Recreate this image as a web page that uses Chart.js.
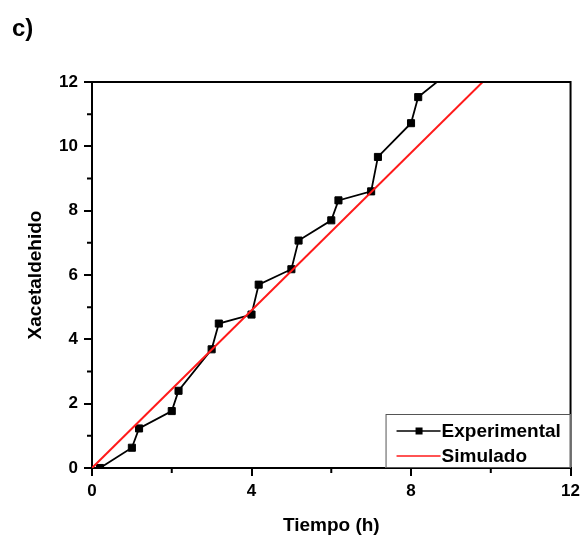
<!DOCTYPE html>
<html lang="es">
  <head>
    <meta charset="UTF-8" />
    <title>Xacetaldehido vs tiempo</title>
    <style>
      html, body { margin: 0; padding: 0; background: #fff; }
      #wrap { position: relative; width: 585px; height: 539px; }
    </style>
  </head>
  <body>
    <div id="wrap">
      <canvas id="myChart" width="585" height="539"></canvas>
    </div>

    <script src="https://cdn.jsdelivr.net/npm/chart.js"></script>
    <script>
      // Datos experimentales (tiempo en h, Xacetaldehido)
      const horasExp = [0.2, 1, 1.18, 2, 2.17, 3, 3.18, 4, 4.18, 5, 5.18, 6, 6.18, 7, 7.17, 8, 8.18, 9];
      const xExp = [0, 0.63, 1.23, 1.77, 2.4, 3.69, 4.49, 4.77, 5.7, 6.18, 7.07, 7.7, 8.32, 8.6, 9.67, 10.72, 11.53, 12.35];

      // Modelo simulado
      const horasSim = [0, 10];
      const xSim = [0, 12.25];

      const xTicks = [0, 4, 8, 12];
      const yTicks = [0, 2, 4, 6, 8, 10, 12];
      const xMinor = [2, 6, 10];
      const yMinor = [1, 3, 5, 7, 9, 11];

      const FONT = "'Liberation Sans', Arial, sans-serif";

      const toXY = (xs, ys) => xs.map((x, i) => ({ x: x, y: ys[i] }));

      // marco superior/derecho, marcas menores, leyenda y etiqueta "c)"
      const extras = {
        id: "extras",
        afterDraw(chart) {
          const { ctx, chartArea: a, scales } = chart;
          ctx.save();
          ctx.strokeStyle = "#000";
          ctx.lineWidth = 2;
          ctx.beginPath();
          ctx.moveTo(a.left, a.top);
          ctx.lineTo(a.right, a.top);
          ctx.lineTo(a.right, a.bottom);
          ctx.stroke();

          ctx.beginPath();
          xMinor.forEach((v) => {
            const px = scales.x.getPixelForValue(v);
            ctx.moveTo(px, a.bottom);
            ctx.lineTo(px, a.bottom + 5);
          });
          yMinor.forEach((v) => {
            const py = scales.y.getPixelForValue(v);
            ctx.moveTo(a.left, py);
            ctx.lineTo(a.left - 5, py);
          });
          ctx.stroke();

          // leyenda
          const bx = a.right - 185, by = a.bottom - 54;
          ctx.fillStyle = "#fff";
          ctx.fillRect(bx, by, 185, 54);
          ctx.strokeStyle = "#555";
          ctx.lineWidth = 1;
          ctx.strokeRect(bx + 0.5, by + 0.5, 184, 53);

          ctx.font = "bold 19px " + FONT;
          ctx.textBaseline = "middle";
          chart.data.datasets.forEach((ds, i) => {
            const y = by + 17 + i * 25;
            ctx.strokeStyle = ds.borderColor;
            ctx.lineWidth = 1.5;
            ctx.beginPath();
            ctx.moveTo(bx + 11, y);
            ctx.lineTo(bx + 55, y);
            ctx.stroke();
            if (ds.pointRadius > 0) {
              ctx.fillStyle = ds.borderColor;
              ctx.fillRect(bx + 30, y - 3.5, 7, 7);
            }
            ctx.fillStyle = "#000";
            ctx.textAlign = "left";
            ctx.fillText(ds.label, bx + 56, y + 1);
          });

          ctx.font = "bold 24px " + FONT;
          ctx.textAlign = "left";
          ctx.textBaseline = "alphabetic";
          ctx.fillStyle = "#000";
          ctx.fillText("c)", 12, 36);
          ctx.restore();
        },
      };

      const ctx = document.getElementById("myChart").getContext("2d");
      const chart = new Chart(ctx, {
        type: "scatter",
        data: {
          datasets: [
            {
              label: "Experimental",
              data: toXY(horasExp, xExp),
              showLine: true,
              borderColor: "#000",
              backgroundColor: "#000",
              borderWidth: 1.8,
              pointStyle: "rect",
              pointRadius: 5,
              pointBorderWidth: 1,
              clip: 0,
              order: 1,
            },
            {
              label: "Simulado",
              data: toXY(horasSim, xSim),
              showLine: true,
              borderColor: "#ff1a1a",
              backgroundColor: "#ff1a1a",
              borderWidth: 2,
              pointRadius: 0,
              clip: 0,
              order: 0,
            },
          ],
        },
        options: {
          responsive: false,
          animation: false,
          layout: { padding: { left: 0, top: 82, right: 13, bottom: 0 } },
          plugins: { legend: { display: false }, tooltip: { enabled: false } },
          scales: {
            x: {
              type: "linear",
              min: 0,
              max: 12,
              afterBuildTicks: (s) => { s.ticks = xTicks.map((v) => ({ value: v })); },
              afterFit: (s) => { s.height = 71; },
              border: { display: true, color: "#000", width: 2 },
              grid: { drawOnChartArea: false, drawTicks: true, tickLength: 8, color: "#000", lineWidth: 2 },
              ticks: { color: "#000", padding: 5, font: { family: FONT, size: 17, weight: "bold" } },
              title: {
                display: true,
                text: "Tiempo (h)",
                color: "#000",
                padding: { top: 0, bottom: 2 },
                font: { family: FONT, size: 19, weight: "bold" },
              },
            },
            y: {
              type: "linear",
              min: 0,
              max: 12,
              afterBuildTicks: (s) => { s.ticks = yTicks.map((v) => ({ value: v })); },
              afterFit: (s) => { s.width = 92; },
              border: { display: true, color: "#000", width: 2 },
              grid: { drawOnChartArea: false, drawTicks: true, tickLength: 8, color: "#000", lineWidth: 2 },
              ticks: { color: "#000", padding: 6, font: { family: FONT, size: 17, weight: "bold" } },
              title: {
                display: true,
                text: "Xacetaldehido",
                color: "#000",
                padding: { top: 24, bottom: 0 },
                font: { family: FONT, size: 19, weight: "bold" },
              },
            },
          },
        },
        plugins: [extras],
      });
    </script>
  </body>
</html>
